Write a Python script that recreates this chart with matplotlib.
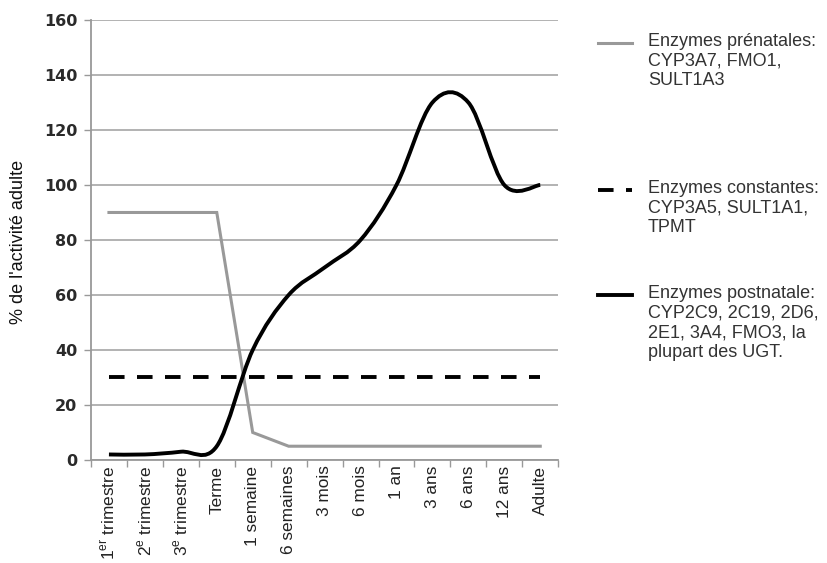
import numpy as np
import matplotlib.pyplot as plt
from matplotlib.path import Path
from matplotlib.patches import PathPatch
from matplotlib.lines import Line2D

plt.rcParams['font.family'] = ['Liberation Sans', 'DejaVu Sans']
plt.rcParams['mathtext.fontset'] = 'custom'
plt.rcParams['mathtext.rm'] = 'Liberation Sans'

categories = [r'1$^{\mathrm{er}}$ trimestre', r'2$^{\mathrm{e}}$ trimestre',
              r'3$^{\mathrm{e}}$ trimestre', 'Terme', '1 semaine', '6 semaines',
              '3 mois', '6 mois', '1 an', '3 ans', '6 ans', '12 ans', 'Adulte']
prenatal = [90, 90, 90, 90, 10, 5, 5, 5, 5, 5, 5, 5, 5]
constant = [30, 30, 30, 30, 30, 30, 30, 30, 30, 30, 30, 30, 30]
postnatal = [2, 2, 3, 5, 40, 60, 70, 80, 100, 130, 130, 100, 100]

legend_labels = ['Enzymes prénatales:\nCYP3A7, FMO1,\nSULT1A3',
                 'Enzymes constantes:\nCYP3A5, SULT1A1,\nTPMT',
                 'Enzymes postnatale:\nCYP2C9, 2C19, 2D6,\n2E1, 3A4, FMO3, la\nplupart des UGT.']

GRID = '#a6a6a6'
GRAY = '#999999'


def smooth_path(x, y):
    # excel-style smoothed line: cubic bezier segments, catmull-rom control points
    x = np.asarray(x, float)
    y = np.asarray(y, float)
    px = np.concatenate(([x[0]], x, [x[-1]]))
    py = np.concatenate(([y[0]], y, [y[-1]]))
    verts = [(x[0], y[0])]
    codes = [Path.MOVETO]
    for i in range(1, len(px) - 2):
        c1 = (px[i] + (px[i + 1] - px[i - 1]) / 6, py[i] + (py[i + 1] - py[i - 1]) / 6)
        c2 = (px[i + 1] - (px[i + 2] - px[i]) / 6, py[i + 1] - (py[i + 2] - py[i]) / 6)
        verts += [c1, c2, (px[i + 1], py[i + 1])]
        codes += [Path.CURVE4] * 3
    return Path(verts, codes)


fig = plt.figure(figsize=(8.27, 5.63), dpi=100)
ax = fig.add_axes([0.110, 0.183, 0.565, 0.7815])

xs = np.arange(len(categories))
ax.plot(xs, prenatal, color=GRAY, lw=2.2, solid_joinstyle='miter', zorder=3)
ax.plot(xs, constant, color='black', lw=2.8, dashes=(4, 3.2), dash_capstyle='butt', zorder=3)
ax.add_patch(PathPatch(smooth_path(xs, postnatal), facecolor='none', edgecolor='black',
                       lw=2.8, zorder=4))

ax.set_xlim(-0.5, len(categories) - 0.5)
ax.set_ylim(0, 160)
ax.set_yticks(range(0, 161, 20))
ax.tick_params(axis='y', length=5, width=1, color=GRAY, pad=5)
for t in ax.get_yticklabels():
    t.set_fontfamily('DejaVu Sans')
    t.set_fontweight('bold')
    t.set_fontsize(11.5)
    t.set_color('#2a2a2a')
ax.set_xticks(xs)
ax.set_xticklabels(categories, rotation=90, fontsize=12.4, color='#222222')
ax.set_xticks(np.arange(-0.5, len(categories), 1), minor=True)
ax.tick_params(axis='x', which='major', length=0, pad=4)
ax.tick_params(axis='x', which='minor', length=5, width=1, color=GRAY)
ax.yaxis.grid(True, color=GRID, lw=1.2)
ax.set_axisbelow(True)
for s in ['top', 'right']:
    ax.spines[s].set_visible(False)
for s in ['left', 'bottom']:
    ax.spines[s].set_color(GRAY)
    ax.spines[s].set_linewidth(1.3)
ax.set_ylabel("% de l'activité adulte", fontsize=13, color='#111111')
ax.yaxis.set_label_coords(-0.137, 0.495)

# legend drawn by hand, handle next to the first line of each entry
entry_y = [43, 190, 295]
styles = [dict(color=GRAY, lw=2.2),
          dict(color='black', lw=2.8, dashes=(4, 3.2), dash_capstyle='butt'),
          dict(color='black', lw=2.8)]
W, H = 827, 563
for yy, lab, st in zip(entry_y, legend_labels, styles):
    fig.add_artist(Line2D([598 / W, 632 / W], [1 - yy / H, 1 - yy / H], **st))
    fig.text(648 / W, 1 - (yy - 10) / H, lab, fontsize=13, color='#333333',
             va='top', ha='left', linespacing=1.2)

fig.savefig('out.png', dpi=100)
